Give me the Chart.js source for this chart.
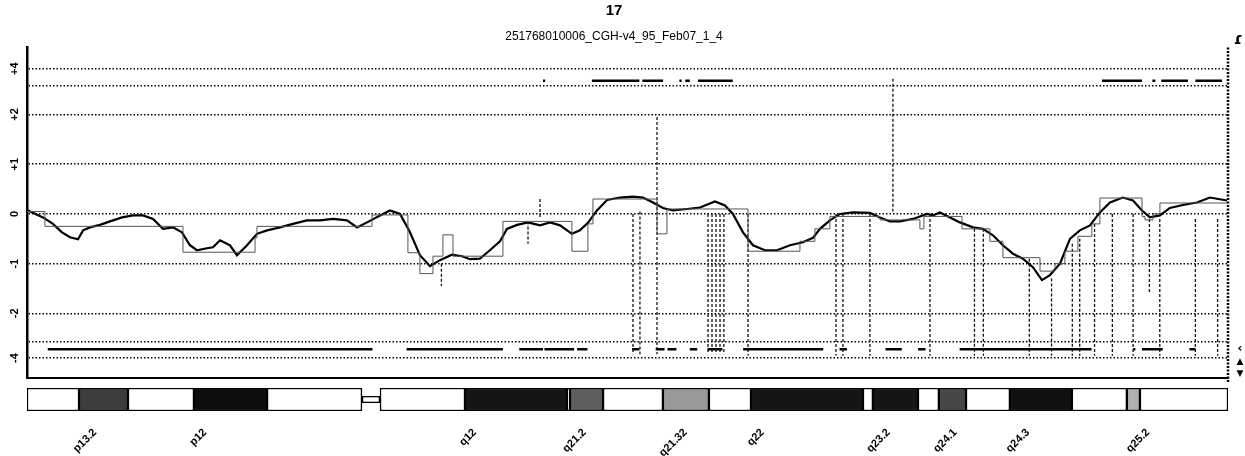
<!DOCTYPE html>
<html lang="pt-BR">
<head>
<meta charset="UTF-8">
<title>Cromossomo 17</title>
<script src="https://cdn.jsdelivr.net/npm/chart.js@4.4.1/dist/chart.umd.min.js"></script>
<style>
  html, body { margin: 0; padding: 0; background: #fff; }
  .caixa { position: relative; width: 1245px; }
  #caixaPerfil { height: 382px; }
  #caixaIdeograma { height: 74px; }
</style>
</head>
<body>
<div class="caixa" id="caixaPerfil"><canvas id="graficoPerfil"></canvas></div>
<div class="caixa" id="caixaIdeograma"><canvas id="graficoIdeograma"></canvas></div>
<script>
// posicoes em Mb (0 a 81); valores na escala do eixo (acima de |2| a escala e comprimida)
const mediaX = [0.07, 1.08, 1.75, 2.36, 2.9, 3.44, 3.78, 4.25, 4.92, 5.6,
  6.41, 7.15, 7.82, 8.5, 9.17, 9.85, 10.45, 10.99, 11.46, 12.14,
  12.54, 13.02, 13.69, 14.16, 14.84, 15.51, 16.19, 17.06, 17.94, 18.88,
  19.76, 20.64, 21.58, 22.26, 22.93, 23.81, 24.48, 25.16, 25.83, 26.5,
  27.18, 27.85, 28.66, 29.34, 29.88, 30.55, 31.22, 31.9, 32.37, 33.05,
  33.79, 34.6, 35.27, 35.95, 36.75, 37.29, 37.83, 38.44, 39.12, 39.99,
  40.87, 41.54, 42.22, 42.89, 43.57, 44.51, 45.39, 46.4, 47.07, 47.61,
  48.29, 48.96, 49.77, 50.58, 51.46, 52.33, 53.01, 53.48, 54.15, 54.83,
  55.71, 56.85, 57.53, 58.2, 58.88, 59.75, 60.7, 61.1, 61.57, 62.25,
  62.92, 63.8, 64.47, 65.15, 65.82, 66.5, 67.17, 67.84, 68.45, 68.99,
  69.67, 70.34, 71.01, 71.69, 72.36, 73.04, 73.91, 74.59, 75.2, 75.73,
  76.41, 77.08, 77.96, 78.9, 79.78, 80.93];
const mediaY = [0.07, -0.07, -0.2, -0.37, -0.47, -0.51, -0.33, -0.27, -0.22, -0.15,
  -0.07, -0.03, -0.03, -0.1, -0.3, -0.27, -0.37, -0.63, -0.73, -0.69,
  -0.67, -0.53, -0.63, -0.83, -0.63, -0.4, -0.33, -0.27, -0.2, -0.13,
  -0.13, -0.1, -0.13, -0.27, -0.17, -0.03, 0.07, 0, -0.37, -0.83,
  -1.05, -0.93, -0.82, -0.85, -0.91, -0.9, -0.73, -0.55, -0.3, -0.22,
  -0.17, -0.23, -0.17, -0.23, -0.4, -0.33, -0.18, 0.07, 0.28, 0.33,
  0.35, 0.33, 0.23, 0.12, 0.07, 0.1, 0.13, 0.25, 0.17, 0,
  -0.37, -0.63, -0.73, -0.73, -0.63, -0.57, -0.48, -0.3, -0.13, 0,
  0.03, 0.02, -0.07, -0.15, -0.15, -0.1, 0, -0.03, 0.03, -0.07,
  -0.17, -0.27, -0.3, -0.43, -0.63, -0.8, -0.9, -1.07, -1.33, -1.23,
  -1.0, -0.5, -0.33, -0.23, 0.03, 0.23, 0.33, 0.27, 0.07, -0.07,
  -0.03, 0.12, 0.18, 0.23, 0.33, 0.27];

// segmentos (valor vale do ponto ate o proximo)
const degrauX = [0, 1.21, 10.52, 15.38, 15.51, 23.27, 25.69, 26.5, 27.38, 28.05,
  28.73, 32.1, 36.75, 37.83, 38.17, 42.49, 43.16, 48.63, 52.13, 53.14,
  54.15, 57.53, 60.22, 60.49, 63.06, 64.94, 65.82, 68.32, 69.33, 70.0,
  70.88, 71.82, 72.36, 75.2, 75.4, 75.94, 76.41, 81.0];
const degrauY = [0.05, -0.25, -0.77, -0.48, -0.25, -0.02, -0.78, -1.2, -0.85, -0.42,
  -0.85, -0.15, -0.75, -0.2, 0.3, -0.4, 0.1, -0.75, -0.55, -0.3,
  -0.05, -0.12, -0.3, -0.05, -0.3, -0.55, -0.88, -1.15, -1.0, -0.75,
  -0.45, -0.2, 0.32, -0.05, -0.12, 0.0, 0.22, 0.22];

// chamadas de ganho (faixa de cima) e perda (faixa de baixo)
const nivelGanho = 2.68;
const ganhoInicio = [34.8, 38.1, 41.5, 44.0, 44.4, 45.25, 72.5, 75.9, 76.5, 78.8];
const ganhoFim = [34.95, 41.3, 42.9, 44.15, 44.7, 47.6, 75.2, 76.1, 78.3, 80.6];
const nivelPerda = -2.72;
const perdaInicio = [1.4, 25.6, 33.2, 34.9, 37.1, 40.8, 42.4, 43.2, 44.7, 45.9, 48.3, 54.8, 57.9, 60.1, 62.9, 74.6, 75.2, 78.4];
const perdaFim = [23.3, 32.1, 34.8, 36.9, 37.8, 41.3, 43.0, 43.8, 45.2, 46.9, 53.7, 55.3, 59.0, 60.6, 71.8, 74.75, 76.6, 78.8];

// marcadores verticais tracejados
const vertX = [27.95, 33.79, 34.6, 40.87, 41.34, 42.49, 45.93, 46.2, 46.47, 46.74, 47.0, 48.63,
  54.56, 55.03, 56.85, 58.4, 60.9, 63.9, 64.5, 67.6, 69.1, 70.5, 71.0, 72.0, 73.2, 74.6,
  75.7, 76.4, 78.8, 80.3];
const vertTopo = [-1.0, -0.15, 0.3, 0.0, 0.05, 1.95, 0, 0, 0, 0, 0, 0,
  0, 0, 0, 2.72, 0, -0.3, -0.3, -0.9, -1.3, -0.6, -0.5, -0.2, 0, 0,
  -0.1, -0.1, -0.1, -0.1];
const vertBase = [-1.45, -0.6, -0.1, -2.82, -2.82, -2.82, -2.82, -2.82, -2.82, -2.82, -2.82, -2.85,
  -2.85, -2.85, -2.85, 0.05, -2.85, -2.85, -2.85, -2.85, -2.85, -2.85, -2.85, -2.85, -2.85, -2.85,
  -1.6, -2.85, -2.85, -2.85];

const ticksY = [-2.9, -2.57, -2, -1, 0, 1, 2, 2.58, 2.92];
const rotulosY = ['-4', '', '-2', '-1', '0', '+1', '+2', '', '+4'];

// ideograma
const bandaInicio = [0, 3.51, 6.81, 11.26, 16.19, 23.81, 29.54, 36.42, 36.62, 38.85, 42.89, 45.99, 48.83, 56.38, 57.05, 60.09, 61.5, 63.33, 66.29, 70.47, 74.18, 75.06];
const bandaFim = [3.51, 6.81, 11.26, 16.19, 22.59, 29.54, 36.42, 36.62, 38.85, 42.89, 45.99, 48.83, 56.38, 57.05, 60.09, 61.5, 63.33, 66.29, 70.47, 74.18, 75.06, 81.0];
const bandaCor = ['#fff', '#3c3c3c', '#fff', '#0c0c0c', '#fff', '#fff', '#151515', '#fff', '#5e5e5e', '#fff', '#9a9a9a', '#fff', '#151515', '#fff', '#151515', '#fff', '#474747', '#fff', '#101010', '#fff', '#b0b0b0', '#fff'];
const centromero = [22.59, 23.81];
const rotuloPos = [4.59, 12.0, 30.2, 37.6, 44.4, 49.6, 58.1, 62.6, 67.5, 75.6];
const rotuloBanda = ['p13.2', 'p12', 'q12', 'q21.2', 'q21.32', 'q22', 'q23.2', 'q24.1', 'q24.3', 'q25.2'];

const FONTE = "'Liberation Sans', Arial, sans-serif";

document.addEventListener('DOMContentLoaded', () => {
  gerarGraficoPerfil();
  gerarIdeograma();
});

function segmentos(inicios, fins, nivel) {
  const pontos = [];
  inicios.forEach((x, i) => {
    pontos.push({ x, y: nivel }, { x: fins[i], y: nivel }, { x: fins[i], y: null });
  });
  return pontos;
}

function verticais() {
  const pontos = [];
  vertX.forEach((x, i) => {
    pontos.push({ x, y: vertTopo[i] }, { x, y: vertBase[i] }, { x, y: null });
  });
  return pontos;
}

const enfeites = {
  id: 'enfeites',
  afterDraw(chart) {
    const { ctx, chartArea } = chart;
    ctx.save();
    ctx.strokeStyle = '#000';
    ctx.lineWidth = 2.5;
    ctx.setLineDash([2, 1.5]);
    ctx.beginPath();
    ctx.moveTo(chartArea.right, chartArea.top);
    ctx.lineTo(chartArea.right, chart.height);
    ctx.stroke();
    ctx.setLineDash([]);
    ctx.fillStyle = '#000';
    ctx.textAlign = 'center';
    ctx.font = "bold 15px 'DejaVu Sans'";
    ctx.fillText('ɾ', 1238, 44);
    ctx.font = "bold 12px 'DejaVu Sans'";
    ctx.fillText('‹', 1240, 352);
    ctx.font = "9px 'DejaVu Sans'";
    ctx.fillText('▲', 1240, 364);
    ctx.fillText('▼', 1240, 376);
    ctx.restore();
  }
};

function gerarGraficoPerfil() {
  const ctx = document.getElementById('graficoPerfil').getContext('2d');
  new Chart(ctx, {
    type: 'line',
    data: {
      datasets: [
        {
          data: degrauX.map((x, i) => ({ x, y: degrauY[i] })),
          stepped: 'before',
          borderColor: '#555',
          borderWidth: 1,
          pointRadius: 0
        },
        {
          data: verticais(),
          borderColor: '#111',
          borderWidth: 1.3,
          borderDash: [3, 2],
          pointRadius: 0,
          spanGaps: false
        },
        {
          data: segmentos(ganhoInicio, ganhoFim, nivelGanho),
          borderColor: '#000',
          borderWidth: 2.5,
          pointRadius: 0,
          spanGaps: false
        },
        {
          data: segmentos(perdaInicio, perdaFim, nivelPerda),
          borderColor: '#000',
          borderWidth: 2.5,
          pointRadius: 0,
          spanGaps: false
        },
        {
          data: mediaX.map((x, i) => ({ x, y: mediaY[i] })),
          borderColor: '#000',
          borderWidth: 2.2,
          pointRadius: 0,
          tension: 0
        }
      ]
    },
    options: {
      responsive: true,
      maintainAspectRatio: false,
      animation: false,
      layout: { padding: { top: 0, right: 17, bottom: 4, left: 0 } },
      plugins: {
        legend: { display: false },
        tooltip: { enabled: false },
        title: {
          display: true,
          text: '17',
          color: '#000',
          font: { family: FONTE, size: 15, weight: 'bold' },
          padding: { top: 2, bottom: 2 }
        },
        subtitle: {
          display: true,
          text: '251768010006_CGH-v4_95_Feb07_1_4',
          color: '#000',
          font: { family: FONTE, size: 12 },
          padding: { top: 7, bottom: 4 }
        }
      },
      scales: {
        x: {
          type: 'linear',
          min: 0,
          max: 81,
          grid: { display: false },
          ticks: { display: false },
          border: { display: true, color: '#000', width: 2 },
          afterFit: s => { s.height = 0; }
        },
        y: {
          min: -3.3,
          max: 3.35,
          afterBuildTicks: s => { s.ticks = ticksY.map(v => ({ value: v })); },
          afterFit: s => {
            s.width = 27;
            s.paddingTop = 0;
            s.paddingBottom = 0;
          },
          grid: { color: '#000', lineWidth: 1.5, drawTicks: false },
          border: { display: true, color: '#000', width: 2.5, dash: [1.5, 2] },
          ticks: {
            color: '#000',
            font: { family: FONTE, size: 11, weight: 'bold' },
            minRotation: 90,
            maxRotation: 90,
            crossAlign: 'center',
            padding: 6,
            callback: (v, i) => rotulosY[i]
          }
        }
      }
    },
    plugins: [enfeites]
  });
}

function gerarIdeograma() {
  const ctx = document.getElementById('graficoIdeograma').getContext('2d');
  new Chart(ctx, {
    type: 'bar',
    data: {
      labels: ['17'],
      datasets: [
        {
          data: bandaInicio.map((a, i) => ({ x: [a, bandaFim[i]], y: '17' })),
          backgroundColor: bandaCor,
          borderColor: '#000',
          borderWidth: 1.5,
          borderSkipped: false,
          barPercentage: 1,
          categoryPercentage: 1,
          grouped: false
        },
        {
          data: [{ x: centromero, y: '17' }],
          backgroundColor: '#fff',
          borderColor: '#000',
          borderWidth: 1.5,
          borderSkipped: false,
          barPercentage: 0.3,
          categoryPercentage: 1,
          grouped: false
        }
      ]
    },
    options: {
      indexAxis: 'y',
      responsive: true,
      maintainAspectRatio: false,
      animation: false,
      layout: { padding: { top: 6, right: 17, bottom: 0, left: 27 } },
      plugins: { legend: { display: false }, tooltip: { enabled: false } },
      scales: {
        x: {
          type: 'linear',
          min: 0,
          max: 81,
          grid: { display: false },
          border: { display: false },
          afterBuildTicks: s => { s.ticks = rotuloPos.map(v => ({ value: v })); },
          afterFit: s => { s.height = 45; },
          ticks: {
            autoSkip: false,
            minRotation: 45,
            maxRotation: 45,
            padding: 7,
            color: '#000',
            font: { family: FONTE, size: 11, weight: 'bold' },
            callback: (v, i) => rotuloBanda[i]
          }
        },
        y: { display: false }
      }
    }
  });
}
</script>
</body>
</html>
